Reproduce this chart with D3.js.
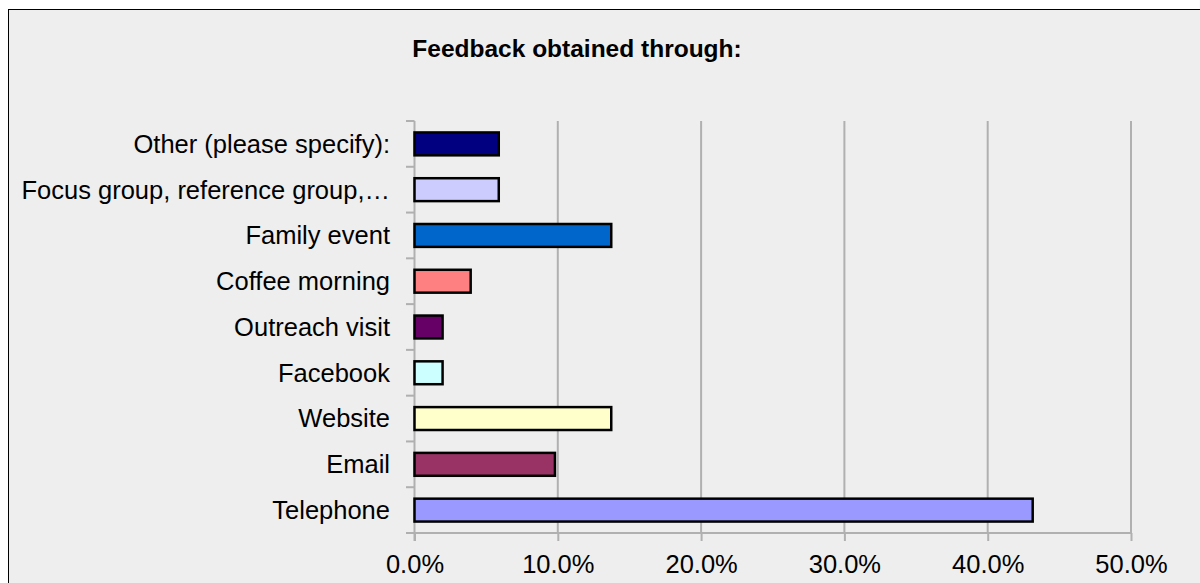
<!DOCTYPE html>
<html><head><meta charset="utf-8">
<script src="https://cdn.jsdelivr.net/npm/d3@7"></script>
<style>
html,body{margin:0;padding:0;background:#fff;}
svg{display:block;}
text{font-family:"Liberation Sans",Arial,sans-serif;fill:#000;}
</style></head>
<body>
<svg id="c" width="1200" height="583"></svg>
<script>
const categories = ["Telephone","Email","Website","Facebook","Outreach visit","Coffee morning","Family event","Focus group, reference group,…","Other (please specify):"];
const values = [43.14, 9.80, 13.73, 1.96, 1.96, 3.92, 13.73, 5.88, 5.88];
const colors = ["#9999FF","#993366","#FFFFCC","#CCFFFF","#660066","#FF8080","#0066CC","#CCCCFF","#000080"];
const tickValues = [0,10,20,30,40,50];
const title = "Feedback obtained through:";

const svg = d3.select("#c");
svg.append("rect").attr("x",8.5).attr("y",9.5).attr("width",1200).attr("height",600)
  .attr("fill","#EEEEEE").attr("stroke","#000").attr("stroke-width",1);

const pLeft=414.5, pRight=1131, pTop=121, pBottom=533;
const x = d3.scaleLinear().domain([0,50]).range([pLeft,pRight]);
const y = d3.scaleBand().domain(categories.slice().reverse()).range([pTop,pBottom]).paddingInner(0.5).paddingOuter(0.25);

// gridlines
svg.append("g").selectAll("line").data(tickValues.slice(1)).join("line")
  .attr("x1",d=>x(d)).attr("x2",d=>x(d)).attr("y1",pTop).attr("y2",pBottom)
  .attr("stroke","#B0B0B0").attr("stroke-width",2);

// x axis
const xa = svg.append("g").attr("transform",`translate(0,${pBottom})`)
  .call(d3.axisBottom(x).tickValues(tickValues).tickFormat(d=>d.toFixed(1)+"%").tickSize(8).tickPadding(10));
xa.select(".domain").remove();
xa.selectAll("line").attr("stroke","#B0B0B0").attr("stroke-width",2);
xa.selectAll("text").attr("font-size",25.5).attr("font-family","'Liberation Sans',Arial,sans-serif").attr("fill","#000").attr("y",40).attr("dy",0);
svg.append("line").attr("x1",406).attr("x2",pRight+1).attr("y1",pBottom).attr("y2",pBottom).attr("stroke","#B0B0B0").attr("stroke-width",2);

// y axis
const yBounds = d3.range(categories.length+1).map(i=>pTop + i*(pBottom-pTop)/categories.length);
svg.append("line").attr("x1",pLeft).attr("x2",pLeft).attr("y1",pTop).attr("y2",pBottom+8).attr("stroke","#B0B0B0").attr("stroke-width",2);
svg.append("g").selectAll("line").data(yBounds).join("line")
  .attr("x1",406).attr("x2",pLeft).attr("y1",d=>d).attr("y2",d=>d).attr("stroke","#B0B0B0").attr("stroke-width",2);

// bars
svg.append("g").selectAll("rect").data(categories).join("rect")
  .attr("x",pLeft).attr("y",d=>y(d)).attr("height",y.bandwidth())
  .attr("width",(d,i)=>x(values[i])-pLeft)
  .attr("fill",(d,i)=>colors[i]).attr("stroke","#000").attr("stroke-width",2.5);

// labels
svg.append("g").selectAll("text").data(categories).join("text")
  .attr("x",390).attr("y",d=>y(d)+y.bandwidth()/2).attr("dy","0.35em")
  .attr("text-anchor","end").attr("font-size",25.5).text(d=>d);

svg.append("text").attr("x",577).attr("y",57).attr("text-anchor","middle")
  .attr("font-size",24.5).attr("font-weight","bold").text(title);
</script>
</body></html>
